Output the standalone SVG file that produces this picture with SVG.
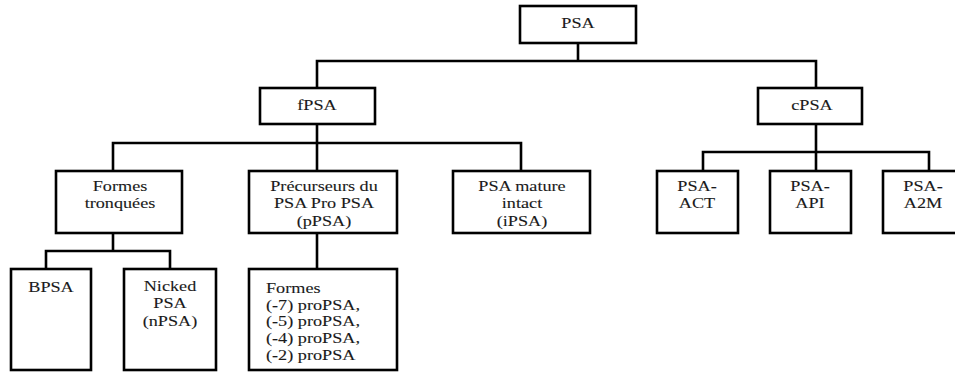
<svg xmlns="http://www.w3.org/2000/svg" width="955" height="373" viewBox="0 0 955 373">
<style>
.box{fill:#fff;stroke:#000;stroke-width:2.6}
.conn{fill:none;stroke:#000;stroke-width:2.6;stroke-linecap:square}
.t{font-family:'Liberation Serif',serif;font-size:14px;fill:#1a1a1a;stroke:#1a1a1a;stroke-width:0.1}
.c{text-anchor:middle}
</style>
<rect width="955" height="373" fill="#fff"/>
<g id="connectors">
<path class="conn" d="M578,43 V61 M317,61 H816 M317,61 V88 M816,61 V88"/>
<path class="conn" d="M317,124 V171 M113,143 H521 M113,143 V171 M521,143 V171"/>
<path class="conn" d="M816,124 V171 M703,152 H929 M703,152 V171 M929,152 V171"/>
<path class="conn" d="M113,233 V251 M46,251 H170 M46,251 V269 M170,251 V269"/>
<path class="conn" d="M317,233 V269"/>
</g>
<g id="psa"><rect class="box" x="520" y="6" width="116" height="37"/>
<g transform="translate(578,28) scale(1.3,1)"><text class="t c" x="0" y="0">PSA</text></g></g>
<g id="fpsa"><rect class="box" x="260" y="88" width="115" height="36"/>
<g transform="translate(317,110) scale(1.3,1)"><text class="t c" x="0" y="0">fPSA</text></g></g>
<g id="cpsa"><rect class="box" x="758" y="88" width="104" height="36"/>
<g transform="translate(812,110) scale(1.3,1)"><text class="t c" x="0" y="0">cPSA</text></g></g>
<g id="formes-tronquees"><rect class="box" x="56" y="171" width="126" height="62"/>
<g transform="translate(120,191) scale(1.3,1)"><text class="t c" x="0" y="0"><tspan x="0">Formes</tspan><tspan x="0" dy="17.5">tronquées</tspan></text></g></g>
<g id="precurseurs"><rect class="box" x="249" y="171" width="148" height="62"/>
<g transform="translate(324,191) scale(1.3,1)"><text class="t c" x="0" y="0"><tspan x="0">Précurseurs du</tspan><tspan x="0" dy="17.5">PSA Pro PSA</tspan><tspan x="0" dy="17.5">(pPSA)</tspan></text></g></g>
<g id="psa-mature"><rect class="box" x="453" y="171" width="137" height="62"/>
<g transform="translate(522,191) scale(1.3,1)"><text class="t c" x="0" y="0"><tspan x="0">PSA mature</tspan><tspan x="0" dy="17.5">intact</tspan><tspan x="0" dy="17.5">(iPSA)</tspan></text></g></g>
<g id="psa-act"><rect class="box" x="657" y="171" width="81" height="62"/>
<g transform="translate(697,191) scale(1.3,1)"><text class="t c" x="0" y="0"><tspan x="0">PSA-</tspan><tspan x="0" dy="17.5">ACT</tspan></text></g></g>
<g id="psa-api"><rect class="box" x="770" y="171" width="81" height="62"/>
<g transform="translate(810,191) scale(1.3,1)"><text class="t c" x="0" y="0"><tspan x="0">PSA-</tspan><tspan x="0" dy="17.5">API</tspan></text></g></g>
<g id="psa-a2m"><rect class="box" x="883" y="171" width="80" height="62"/>
<g transform="translate(923,191) scale(1.3,1)"><text class="t c" x="0" y="0"><tspan x="0">PSA-</tspan><tspan x="0" dy="17.5">A2M</tspan></text></g></g>
<g id="bpsa"><rect class="box" x="11" y="269" width="80" height="101"/>
<g transform="translate(51,292) scale(1.3,1)"><text class="t c" x="0" y="0">BPSA</text></g></g>
<g id="npsa"><rect class="box" x="124" y="269" width="92" height="101"/>
<g transform="translate(170,291) scale(1.3,1)"><text class="t c" x="0" y="0"><tspan x="0">Nicked</tspan><tspan x="0" dy="17.5">PSA</tspan><tspan x="0" dy="17.5">(nPSA)</tspan></text></g></g>
<g id="formes-propsa"><rect class="box" x="249" y="269" width="148" height="101"/>
<g transform="translate(266,293) scale(1.3,1)"><text class="t" x="0" y="0"><tspan x="0">Formes</tspan><tspan x="0" dy="16.7">(-7) proPSA,</tspan><tspan x="0" dy="16.7">(-5) proPSA,</tspan><tspan x="0" dy="16.7">(-4) proPSA,</tspan><tspan x="0" dy="16.7">(-2) proPSA</tspan></text></g></g>
</svg>
